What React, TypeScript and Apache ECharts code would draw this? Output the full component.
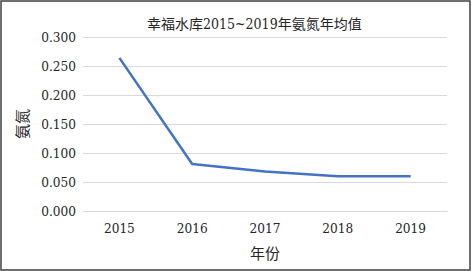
import React, { useEffect, useRef } from "react";
import * as echarts from "echarts";

const categories = ["2015", "2016", "2017", "2018", "2019"];
const values = [0.264, 0.081, 0.068, 0.06, 0.06];
const titleText = "幸福水库2015~2019年氨氮年均值";
const xName = "年份";
const yName = "氨氮";

const FONT = "'DejaVu Serif Condensed', 'DejaVu Serif', 'Noto Sans CJK SC'";

export default function App() {
  const ref = useRef<HTMLDivElement>(null);
  useEffect(() => {
    if (!ref.current) return;
    const chart = echarts.init(ref.current, undefined, { renderer: "svg" });
    chart.setOption({
      animation: false,
      backgroundColor: "#ffffff",
      textStyle: { fontFamily: FONT },
      title: {
        text: titleText,
        left: 142,
        top: 12,
        textStyle: { fontFamily: FONT, fontSize: 14, fontWeight: "normal", color: "#262626" },
      },
      graphic: [
        {
          type: "rect",
          shape: { x: 1, y: 1, width: 469, height: 269 },
          style: { fill: "none", stroke: "#404040", lineWidth: 1.5 },
          silent: true,
        },
      ],
      grid: { left: 83, right: 25, top: 37, bottom: 60 },
      xAxis: {
        type: "category",
        data: categories,
        boundaryGap: true,
        name: xName,
        nameLocation: "middle",
        nameGap: 35,
        nameTextStyle: { fontFamily: FONT, fontSize: 15, color: "#262626" },
        axisLine: { show: true, lineStyle: { color: "#d9d9d9", width: 1 } },
        axisTick: { show: false },
        axisLabel: { margin: 10, fontFamily: FONT, fontSize: 13.5, color: "#262626" },
      },
      yAxis: {
        type: "value",
        min: 0,
        max: 0.3,
        interval: 0.05,
        name: yName,
        nameLocation: "middle",
        nameGap: 53,
        nameRotate: 90,
        nameTextStyle: { fontFamily: FONT, fontSize: 15, color: "#262626" },
        axisLine: { show: false },
        axisTick: { show: false },
        splitLine: { lineStyle: { color: "#d9d9d9", width: 1 } },
        axisLabel: {
          margin: 7,
          fontFamily: FONT,
          fontSize: 13.5,
          color: "#262626",
          formatter: (v: number) => v.toFixed(3),
        },
      },
      series: [
        {
          type: "line",
          data: values,
          showSymbol: false,
          symbol: "none",
          lineStyle: { color: "#4472C4", width: 2.5 },
          itemStyle: { color: "#4472C4" },
        },
      ],
    });
    return () => chart.dispose();
  }, []);
  return (
    <div
      ref={ref}
      style={{ position: "absolute", left: 0, top: 0, width: 472, height: 271 }}
    />
  );
}
